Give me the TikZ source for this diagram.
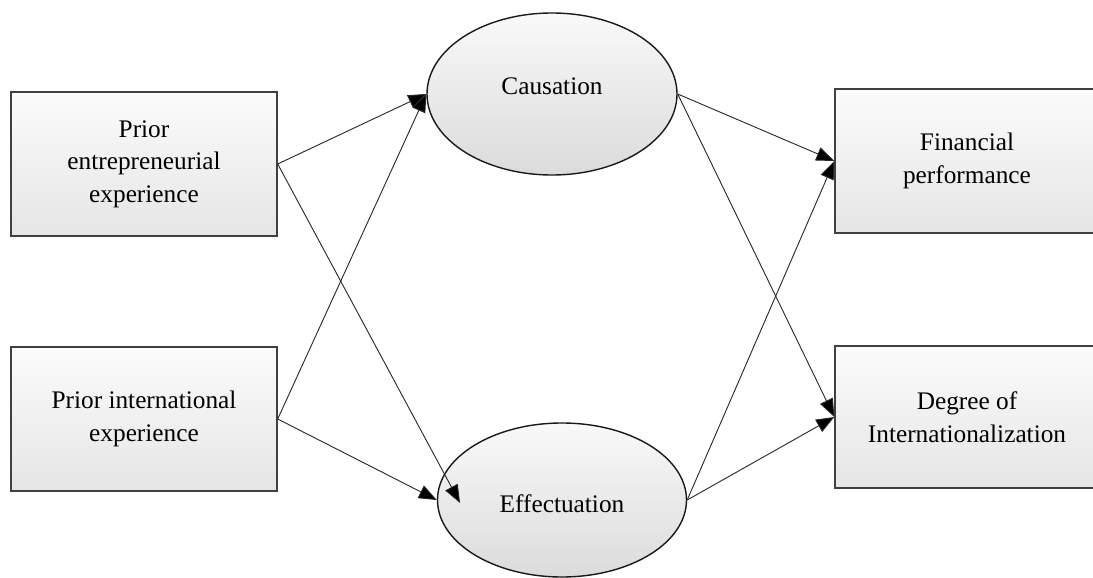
\documentclass[tikz,border=0pt]{standalone}
\usepackage{fontspec}
\setmainfont{Liberation Serif}
\usetikzlibrary{shapes.geometric,arrows.meta}
\begin{document}
\begin{tikzpicture}[x=1pt,y=-1pt,
  lbl/.style={font=\fontsize{25.3}{32.5}\selectfont, align=center, text=black},
  boxnode/.style={lbl, rectangle, draw=black!75, line width=1.4pt, top color=gray!3, bottom color=gray!20, inner sep=0pt},
  ellnode/.style={lbl, ellipse, draw=black!90, line width=1.4pt, top color=gray!5, bottom color=gray!28, inner sep=0pt},
  conn/.style={draw=black!85, line width=0.9pt, -{Triangle[length=18pt,width=14pt,fill=black]}}]
\useasboundingbox (0,0) rectangle (1093,578);
\fill[white] (0,0) rectangle (1093,578);
\node[boxnode, minimum width=266pt, minimum height=144pt] (pe) at (144,164) {Prior\\entrepreneurial\\experience};
\node[boxnode, minimum width=266pt, minimum height=144pt] (pi) at (144,419) {Prior international\\experience};
\node[boxnode, minimum width=264pt, minimum height=144pt] (fp) at (967,161) {Financial\\performance};
\node[boxnode, minimum width=264pt, minimum height=142pt] (di) at (967,417) {Degree of\\Internationalization};
\node[ellnode, minimum width=250pt, minimum height=162pt] (ca) at (552,94) {};
\node[lbl] (cat) at (552,86) {Causation};
\node[ellnode, minimum width=249pt, minimum height=154pt] (ef) at (562,500) {};
\node[lbl] (eft) at (562,504) {Effectuation};
\coordinate (efin) at (460,503);
\draw[conn] (pe.east) -- (ca.west);
\draw[conn] (pe.east) -- (efin);
\draw[conn] (pi.east) -- (ca.west);
\draw[conn] (pi.east) -- (ef.west);
\draw[conn] (ca.east) -- (fp.west);
\draw[conn] (ca.east) -- (di.west);
\draw[conn] (ef.east) -- (fp.west);
\draw[conn] (ef.east) -- (di.west);
\end{tikzpicture}
\end{document}
